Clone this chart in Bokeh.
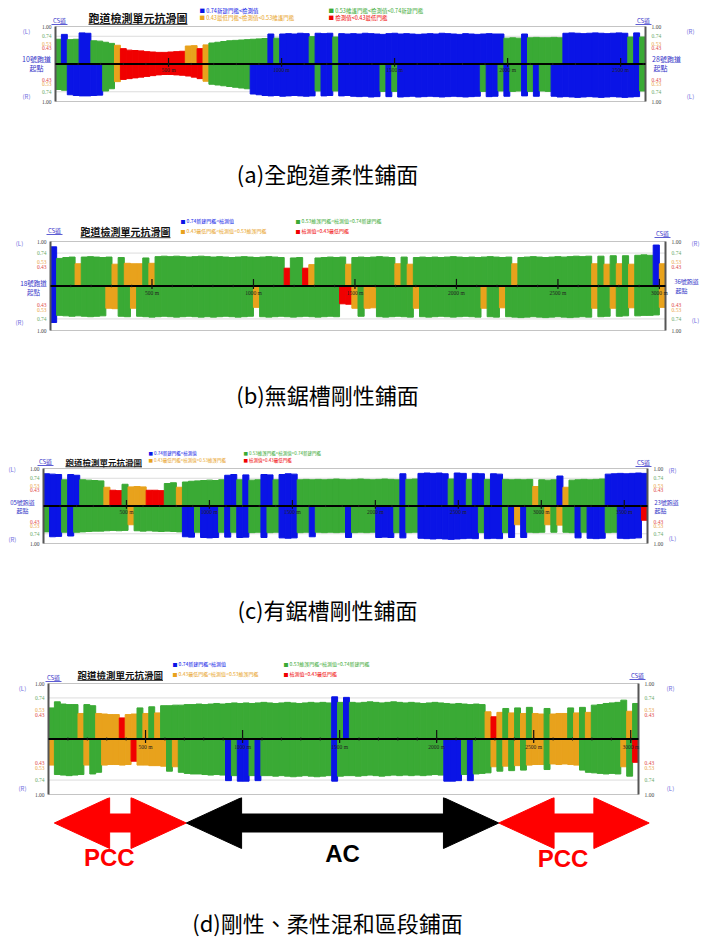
from bokeh.plotting import figure
from bokeh.layouts import column
from bokeh.models import Range1d, ColumnDataSource
from bokeh.core.properties import value
from bokeh.embed import file_html
from bokeh.resources import INLINE

# ---------------- data ----------------
a_len, b_len, c_len, d_len = 2610, 3030, 3640, 3040
a_ticks = [500, 1000, 1500, 2000, 2500]
b_ticks = [500, 1000, 1500, 2000, 2500, 3000]
c_ticks = [500, 1000, 1500, 2000, 2500, 3000, 3500]
d_ticks = [500, 1000, 1500, 2000, 2500, 3000]

a_left = [0.66,0.79,0.65,0.66,0.83,0.82,0.62,0.61,0.58,0.55,
          0.50,0.41,0.37,0.36,0.35,0.33,0.32,0.31,0.31,0.32,
          0.33,0.34,0.48,0.49,0.41,0.51,0.56,0.58,0.60,0.62,
          0.63,0.64,0.65,0.66,0.67,0.68,0.80,0.69,0.80,0.81,
          0.80,0.82,0.81,0.73,0.82,0.81,0.82,0.72,0.81,0.80,
          0.81,0.80,0.82,0.81,0.80,0.79,0.81,0.82,0.80,0.81,
          0.80,0.79,0.80,0.81,0.80,0.82,0.81,0.80,0.79,0.81,
          0.80,0.79,0.80,0.81,0.80,0.80,0.69,0.70,0.69,0.80,
          0.70,0.71,0.70,0.70,0.71,0.70,0.82,0.83,0.82,0.81,
          0.82,0.83,0.82,0.81,0.82,0.83,0.82,0.72,0.83,0.72]
a_right = [0.68,0.70,0.82,0.84,0.85,0.85,0.84,0.83,0.72,0.66,
           0.47,0.41,0.39,0.37,0.35,0.33,0.31,0.29,0.28,0.28,
           0.29,0.30,0.32,0.35,0.39,0.46,0.54,0.56,0.58,0.60,
           0.62,0.64,0.66,0.80,0.82,0.84,0.85,0.84,0.86,0.85,
           0.84,0.85,0.86,0.85,0.72,0.85,0.84,0.72,0.85,0.84,
           0.86,0.87,0.86,0.88,0.87,0.73,0.87,0.73,0.88,0.87,
           0.86,0.88,0.87,0.86,0.87,0.88,0.87,0.86,0.87,0.88,
           0.87,0.86,0.73,0.87,0.86,0.72,0.86,0.73,0.72,0.85,
           0.73,0.86,0.72,0.73,0.86,0.88,0.87,0.88,0.89,0.88,
           0.87,0.88,0.89,0.88,0.87,0.88,0.89,0.88,0.87,0.72]
b_left = [0.88,0.62,0.64,0.65,0.50,0.65,0.66,0.65,0.64,0.65,
          0.49,0.64,0.51,0.50,0.50,0.63,0.51,0.66,0.67,0.66,
          0.67,0.66,0.65,0.66,0.67,0.66,0.65,0.66,0.65,0.64,
          0.65,0.66,0.65,0.64,0.65,0.66,0.65,0.64,0.40,0.63,
          0.64,0.40,0.48,0.63,0.64,0.65,0.64,0.65,0.49,0.64,
          0.65,0.64,0.65,0.66,0.65,0.64,0.50,0.65,0.49,0.64,
          0.65,0.64,0.65,0.64,0.65,0.66,0.65,0.64,0.65,0.64,
          0.65,0.66,0.65,0.64,0.65,0.50,0.64,0.65,0.66,0.65,
          0.64,0.65,0.66,0.65,0.66,0.67,0.66,0.67,0.50,0.67,
          0.49,0.68,0.50,0.68,0.49,0.69,0.70,0.69,0.92,0.50]
b_right = [0.82,0.66,0.67,0.68,0.67,0.68,0.69,0.68,0.67,0.50,
           0.51,0.68,0.69,0.50,0.68,0.69,0.70,0.69,0.68,0.69,
           0.70,0.69,0.68,0.69,0.70,0.69,0.70,0.69,0.68,0.69,
           0.70,0.69,0.68,0.48,0.69,0.70,0.69,0.68,0.69,0.70,
           0.69,0.68,0.69,0.70,0.69,0.68,0.69,0.40,0.41,0.50,
           0.68,0.50,0.49,0.69,0.70,0.69,0.68,0.69,0.70,0.50,
           0.69,0.70,0.69,0.68,0.69,0.70,0.69,0.68,0.69,0.70,
           0.50,0.69,0.70,0.49,0.69,0.70,0.71,0.70,0.69,0.70,
           0.71,0.70,0.69,0.70,0.71,0.70,0.69,0.70,0.50,0.69,
           0.68,0.50,0.68,0.67,0.49,0.67,0.66,0.66,0.65,0.48]
c_left = [0.86,0.85,0.84,0.70,0.84,0.82,0.70,0.69,0.68,0.67,
          0.50,0.42,0.41,0.58,0.51,0.52,0.51,0.42,0.42,0.41,
          0.60,0.62,0.50,0.64,0.66,0.67,0.68,0.69,0.68,0.70,
          0.82,0.84,0.70,0.83,0.69,0.70,0.84,0.83,0.70,0.84,
          0.86,0.85,0.70,0.71,0.70,0.71,0.70,0.71,0.72,0.71,
          0.70,0.71,0.72,0.71,0.70,0.71,0.72,0.71,0.70,0.86,
          0.71,0.72,0.87,0.88,0.87,0.88,0.86,0.72,0.88,0.87,
          0.71,0.87,0.86,0.71,0.86,0.85,0.71,0.70,0.71,0.70,
          0.71,0.52,0.70,0.69,0.70,0.80,0.50,0.69,0.70,0.71,
          0.70,0.71,0.72,0.85,0.86,0.87,0.86,0.87,0.88,0.87]
c_right = [0.69,0.82,0.81,0.70,0.80,0.70,0.69,0.68,0.67,0.67,
           0.66,0.65,0.66,0.65,0.50,0.66,0.67,0.66,0.67,0.68,
           0.67,0.68,0.69,0.82,0.83,0.70,0.84,0.85,0.84,0.70,
           0.83,0.70,0.84,0.83,0.71,0.70,0.84,0.71,0.70,0.85,
           0.86,0.85,0.71,0.70,0.82,0.70,0.71,0.70,0.71,0.70,
           0.84,0.71,0.70,0.71,0.70,0.84,0.83,0.84,0.71,0.85,
           0.71,0.70,0.86,0.87,0.88,0.87,0.88,0.89,0.88,0.87,
           0.86,0.87,0.71,0.87,0.86,0.87,0.71,0.84,0.50,0.84,
           0.70,0.71,0.70,0.50,0.70,0.51,0.70,0.71,0.85,0.70,
           0.86,0.87,0.86,0.71,0.70,0.86,0.87,0.86,0.85,0.38]
d_left = [0.56,0.67,0.63,0.62,0.62,0.46,0.62,0.60,0.46,0.45,
          0.44,0.44,0.38,0.44,0.45,0.56,0.46,0.58,0.47,0.60,
          0.60,0.61,0.61,0.62,0.62,0.63,0.62,0.63,0.64,0.63,
          0.64,0.65,0.64,0.65,0.64,0.65,0.66,0.65,0.64,0.65,
          0.66,0.65,0.64,0.65,0.66,0.65,0.66,0.65,0.76,0.66,
          0.75,0.66,0.65,0.66,0.67,0.66,0.65,0.66,0.67,0.66,
          0.65,0.66,0.65,0.64,0.65,0.66,0.65,0.64,0.63,0.64,
          0.63,0.62,0.63,0.62,0.49,0.40,0.48,0.55,0.47,0.56,
          0.46,0.57,0.46,0.45,0.55,0.45,0.46,0.46,0.56,0.47,
          0.57,0.48,0.61,0.62,0.64,0.65,0.66,0.70,0.50,0.64]
d_right = [0.47,0.64,0.65,0.66,0.65,0.64,0.47,0.63,0.60,0.47,
           0.46,0.46,0.47,0.46,0.40,0.47,0.47,0.48,0.48,0.49,
           0.58,0.50,0.60,0.62,0.63,0.63,0.64,0.65,0.64,0.65,
           0.75,0.66,0.76,0.76,0.66,0.75,0.66,0.66,0.67,0.66,
           0.67,0.68,0.67,0.66,0.67,0.68,0.67,0.66,0.76,0.67,
           0.66,0.66,0.67,0.66,0.65,0.66,0.67,0.66,0.65,0.66,
           0.65,0.66,0.65,0.66,0.65,0.64,0.65,0.76,0.76,0.75,
           0.64,0.75,0.63,0.62,0.61,0.50,0.58,0.49,0.57,0.48,
           0.56,0.47,0.46,0.46,0.55,0.45,0.46,0.45,0.46,0.47,
           0.56,0.60,0.61,0.62,0.63,0.62,0.63,0.50,0.67,0.42]

thresholds = [0.74, 0.53, 0.43]
class_colors = ["#0a14e6", "#3aaa35", "#e8a21c", "#f00000"]
legend_texts = ["■ 0.74新建門檻<檢測值", "■ 0.53維護門檻<檢測值<0.74新建門檻",
                "■ 0.43最低門檻<檢測值<0.53維護門檻", "■ 檢測值<0.43最低門檻"]
title_text = "跑道檢測單元抗滑圖"
captions = ["(a)全跑道柔性鋪面", "(b)無鋸槽剛性鋪面", "(c)有鋸槽剛性鋪面", "(d)剛性、柔性混和區段鋪面"]
y_tick_values = [1.0, 0.74, 0.53, 0.43]
y_tick_colors = ["#444444", "#6aaa6a", "#eaa54a", "#e04848"]

sec_names = ["PCC", "AC", "PCC"]
sec_start = [30, 710, 2320]
sec_end = [710, 2320, 3095]
sec_colors = ["#ff0000", "#000000", "#ff0000"]

CJK = "Noto Sans CJK TC"
W = 705
LANE = "#7070e0"
RWY = "#3434c8"


def color_of(v):
    if v >= thresholds[0]:
        return class_colors[0]
    if v >= thresholds[1]:
        return class_colors[1]
    if v >= thresholds[2]:
        return class_colors[2]
    return class_colors[3]


def base_fig(h, xr, yr):
    p = figure(width=W, height=h, x_range=xr, y_range=yr, min_border=0,
               x_axis_location=None, y_axis_location=None, toolbar_location=None,
               output_backend="svg", title=None)
    p.grid.visible = False
    p.outline_line_color = None
    p.background_fill_color = "white"
    p.border_fill_color = "white"
    return p


def chart(geo, length, upper, lower, ticks, labels, title_pos, title_size, leg_pos, leg_dx, leg_dy, leg_size):
    top, bot, fl, fr, ft, fb = geo

    def xd(px):
        return (px - fl) / (fr - fl) * length

    def yd(py):
        return 1 - 2 * (py - ft) / (fb - ft)

    p = base_fig(bot - top, Range1d(xd(0), xd(W)), Range1d(yd(bot), yd(top)))

    # frame and reference lines
    p.segment(x0=[0, 0], y0=[1, -1], x1=[length, length], y1=[1, -1], line_color="#c4c4c4", line_width=1)
    p.segment(x0=[0, 0], y0=[0.74, -0.74], x1=[length, length], y1=[0.74, -0.74],
              line_color="#dcdcdc", line_width=1)

    # bars
    n = len(upper)
    w = length / n
    xs = [(i + 0.5) * w for i in range(n)]
    up = ColumnDataSource(dict(x=xs, top=upper, c=[color_of(v) for v in upper]))
    dn = ColumnDataSource(dict(x=xs, bottom=[-v for v in lower], c=[color_of(v) for v in lower]))
    p.vbar(x="x", bottom=0, top="top", width=w, fill_color="c", line_color="c", line_width=1, source=up)
    p.vbar(x="x", top=0, bottom="bottom", width=w, fill_color="c", line_color="c", line_width=1, source=dn)

    # side axis lines
    p.segment(x0=[0, length], y0=[-1, -1], x1=[0, length], y1=[1, 1], line_color="#555555", line_width=2)

    # centre distance line with ticks
    p.segment(x0=[0], y0=[0], x1=[length], y1=[0], line_color="black", line_width=2)
    minor = list(range(100, length, 100))
    p.segment(x0=minor, y0=[-0.03] * len(minor), x1=minor, y1=[0.03] * len(minor),
              line_color="#222222", line_width=0.8)
    p.segment(x0=ticks, y0=[-0.07] * len(ticks), x1=ticks, y1=[0.16] * len(ticks),
              line_color="#111111", line_width=1.2)
    p.text(x=ticks, y=[-0.09] * len(ticks), text=[f"{t} m" for t in ticks],
           text_font=value("Liberation Serif"), text_font_size="5.5px", text_align="center",
           text_baseline="top", text_color="#222222")

    # y tick labels (both sides, both halves)
    ty, tt, tc = [], [], []
    for v, c in zip(y_tick_values, y_tick_colors):
        for s in (1, -1):
            ty.append(s * v)
            tt.append(f"{v:.2f}")
            tc.append(c)
    p.text(x=[xd(fl - 4)] * len(ty), y=ty, text=tt, text_color=tc, text_font=value("Liberation Serif"),
           text_font_size="5.5px", text_align="right", text_baseline="middle")
    p.text(x=[xd(fr + 6)] * len(ty), y=ty, text=tt, text_color=tc, text_font=value("Liberation Serif"),
           text_font_size="5.5px", text_align="left", text_baseline="middle")

    # side labels
    for (txt, px, py, size, color, align) in labels:
        p.text(x=[xd(px)], y=[yd(py)], text=[txt], text_font=value(CJK), text_font_size=f"{size}px",
               text_color=color, text_align=align, text_baseline="middle")
        if txt == "CS道":
            p.segment(x0=[xd(px - 8)], y0=[yd(py + 4)], x1=[xd(px + 8)], y1=[yd(py + 4)],
                      line_color=RWY, line_width=0.8)

    # title with underline
    tx, tyy = title_pos
    p.text(x=[xd(tx)], y=[yd(tyy)], text=[title_text], text_font=value(CJK),
           text_font_size=f"{title_size}px", text_font_style="bold", text_color="#111111",
           text_align="left", text_baseline="middle")
    p.segment(x0=[xd(tx)], y0=[yd(tyy + title_size * 0.62)], x1=[xd(tx + 9 * title_size)],
              y1=[yd(tyy + title_size * 0.62)], line_color="#333333", line_width=1)

    # legend
    lx, ly = leg_pos
    offs = [(0, 0), (leg_dx, 0), (0, leg_dy), (leg_dx, leg_dy)]
    p.text(x=[xd(lx + o[0]) for o in offs], y=[yd(ly + o[1]) for o in offs], text=legend_texts,
           text_color=class_colors, text_font=value(CJK), text_font_size=f"{leg_size}px",
           text_align="left", text_baseline="middle")
    return p, xd


def caption_fig(h, cy, text):
    p = base_fig(h, Range1d(0, W), Range1d(h, 0))
    p.text(x=[327], y=[cy], text=[text], text_font=value(CJK), text_font_size="22px",
           text_align="center", text_baseline="middle", text_color="black")
    return p


GA = (0, 112, 55, 645, 26, 101)
GB = (208, 340, 50, 665, 241, 330)
GC = (436, 552, 43, 647, 468, 543)
GD = (640, 797, 48, 638, 683, 794)

labels_a = [("(L)", 26, 31, 6, LANE, "center"), ("(R)", 26, 96, 6, LANE, "center"),
            ("10號跑道", 36, 58, 7, RWY, "center"), ("起點", 36, 67, 7, RWY, "center"),
            ("CS道", 59, 20, 6, RWY, "center"), ("CS道", 643, 20, 6, RWY, "center"),
            ("(R)", 690, 31, 6, LANE, "center"), ("(L)", 690, 96, 6, LANE, "center"),
            ("28號跑道", 666, 58, 7, RWY, "center"), ("起點", 660, 67, 7, RWY, "center")]
labels_b = [("(L)", 19, 243, 6, LANE, "center"), ("(R)", 19, 322, 6, LANE, "center"),
            ("18號跑道", 33, 282, 6.5, RWY, "center"), ("起點", 33, 291, 6.5, RWY, "center"),
            ("CS道", 54, 230, 6, RWY, "center"), ("CS道", 662, 233, 6, RWY, "center"),
            ("(R)", 695, 243, 6, LANE, "center"), ("(L)", 695, 320, 6, LANE, "center"),
            ("36號跑道", 686, 281, 6, RWY, "center"), ("起點", 681, 290, 6, RWY, "center")]
labels_c = [("(L)", 8, 469, 6, LANE, "left"), ("(R)", 8, 539, 6, LANE, "left"),
            ("05號跑道", 22, 502, 6, RWY, "center"), ("起點", 22, 510, 6, RWY, "center"),
            ("CS道", 45, 461, 6, RWY, "center"), ("CS道", 643, 462, 6, RWY, "center"),
            ("(R)", 672, 470, 6, LANE, "center"), ("(L)", 672, 538, 6, LANE, "center"),
            ("23號跑道", 666, 502, 6, RWY, "center"), ("起點", 660, 510, 6, RWY, "center")]
labels_d = [("(L)", 22, 688, 6, LANE, "center"), ("(R)", 22, 788, 6, LANE, "center"),
            ("CS道", 53, 677, 6, RWY, "center"), ("CS道", 637, 675, 6, RWY, "center"),
            ("(R)", 670, 688, 6, LANE, "center"), ("(L)", 670, 788, 6, LANE, "center")]

pa, _ = chart(GA, a_len, a_left, a_right, a_ticks, labels_a, (88, 17), 11, (199, 10), 129, 7, 5.5)
pb, _ = chart(GB, b_len, b_left, b_right, b_ticks, labels_b, (80, 231), 10, (180, 220), 115, 10, 5)
pc, _ = chart(GC, c_len, c_left, c_right, c_ticks, labels_c, (65, 461), 8.5, (148, 452), 95, 7, 4.5)
pd, xd_d = chart(GD, d_len, d_left, d_right, d_ticks, labels_d, (77, 674), 9.5, (172, 663), 111, 10, 5)

cap_a = caption_fig(96, 60, captions[0])
cap_b = caption_fig(96, 53, captions[1])
cap_c = caption_fig(88, 56, captions[2])

# arrows + caption under panel (d), on panel (d)'s distance scale
H2 = 143
p2 = base_fig(H2, Range1d(xd_d(0), xd_d(W)), Range1d(H2, 0))
yc, hh, sh, hl = 25.5, 25.5, 9, 285
xs_list, ys_list = [], []
for s, e in zip(sec_start, sec_end):
    xs_list.append([s, s + hl, s + hl, e - hl, e - hl, e, e - hl, e - hl, s + hl, s + hl])
    ys_list.append([yc, yc - hh, yc - sh, yc - sh, yc - hh, yc, yc + hh, yc + sh, yc + sh, yc + hh])
p2.patches(xs=xs_list, ys=ys_list, fill_color=sec_colors, line_color=sec_colors)
p2.text(x=[(s + e) / 2 for s, e in zip(sec_start, sec_end)], y=[60, 56, 61], text=sec_names,
        text_color=sec_colors, text_font=value("Liberation Sans"), text_font_style="bold",
        text_font_size="24px", text_align="center", text_baseline="middle", x_offset=[-11, 0, -11])
p2.text(x=[xd_d(327)], y=[124], text=[captions[3]], text_font=value(CJK), text_font_size="22px",
        text_align="center", text_baseline="middle", text_color="black")

layout = column(pa, cap_a, pb, cap_b, pc, cap_c, pd, p2, spacing=0)
open("out.html", "w").write(file_html(layout, INLINE))
